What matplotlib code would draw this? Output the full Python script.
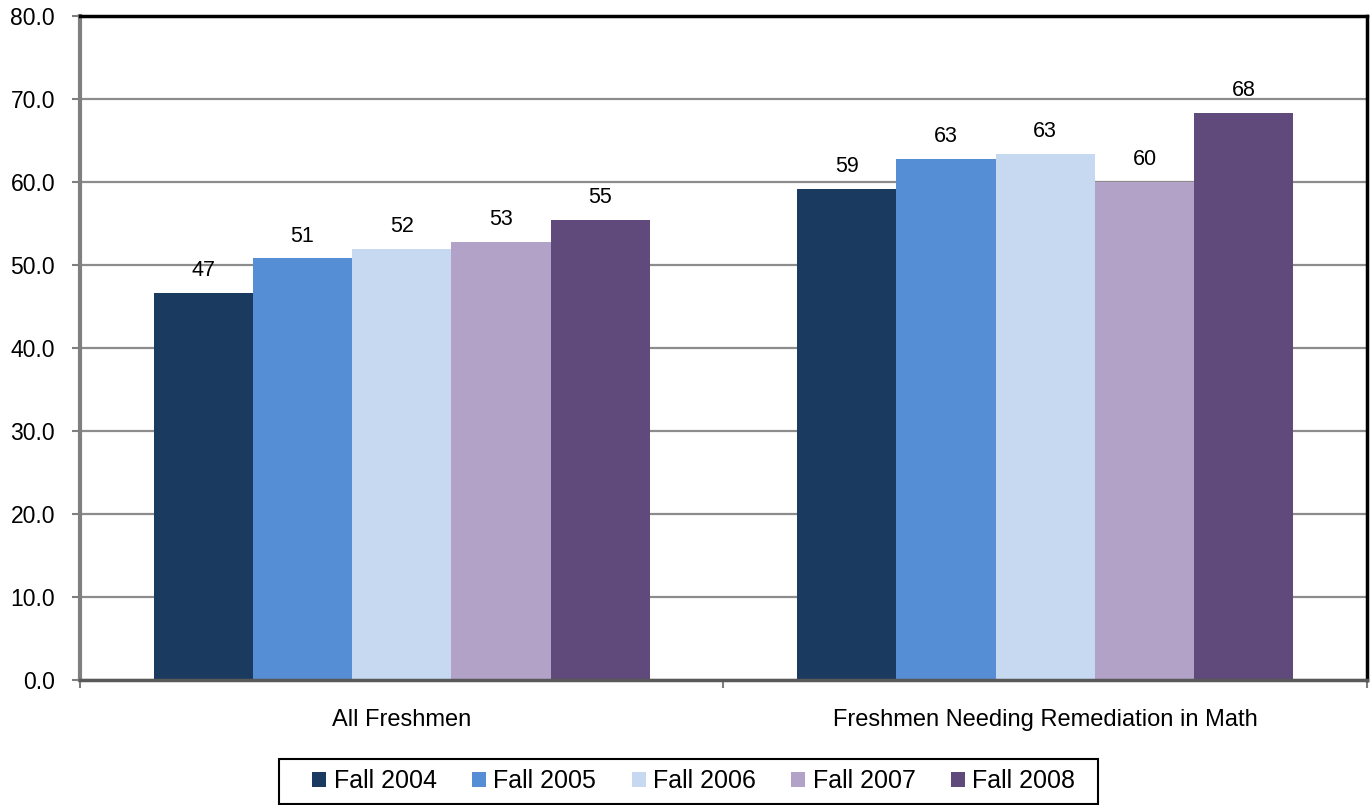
import numpy as np
import matplotlib.pyplot as plt
from matplotlib.patches import Patch, Rectangle

plt.rcParams['font.family'] = ['Liberation Sans', 'DejaVu Sans']

categories = ['All Freshmen', 'Freshmen Needing Remediation in Math']
series = ['Fall 2004', 'Fall 2005', 'Fall 2006', 'Fall 2007', 'Fall 2008']
values = {
    'Fall 2004': [46.6, 59.2],
    'Fall 2005': [50.8, 62.8],
    'Fall 2006': [51.9, 63.4],
    'Fall 2007': [52.8, 60.0],
    'Fall 2008': [55.4, 68.3],
}
colors = ['#1B3A5F', '#558ED5', '#C6D9F1', '#B3A2C7', '#604A7B']
y_ticks = np.arange(0, 81, 10)

fig = plt.figure(figsize=(13.7, 8.05), dpi=100)
ax = fig.add_axes([0.0584, 0.1553, 0.9394, 0.8248])

x = np.arange(len(categories))
width = 0.1543
for i, (name, c) in enumerate(zip(series, colors)):
    bars = ax.bar(x + (i - 2) * width, values[name], width=width, color=c,
                  zorder=3, linewidth=0)
    ax.bar_label(bars, fmt='%.0f', padding=8.5, fontsize=15.5, zorder=4)

ax.set_xlim(-0.5, len(categories) - 0.5)
ax.set_ylim(0, 80)
ax.set_yticks(y_ticks)
ax.set_yticklabels([f'{v:.1f}' for v in y_ticks], fontsize=16.5)
ax.yaxis.grid(True, color='#8C8C8C', linewidth=1.6, zorder=0)

# category boundaries get the ticks, names sit between them
ax.set_xticks(np.arange(-0.5, len(categories), 1.0))
ax.set_xticklabels([])
ax.set_xticks(x, minor=True)
ax.set_xticklabels(categories, minor=True, fontsize=17)
ax.tick_params(axis='x', which='major', direction='out', length=6,
               width=1.5, color='#7F7F7F')
ax.tick_params(axis='x', which='minor', length=0, pad=21)
ax.tick_params(axis='y', direction='out', length=6, width=1.5,
               color='#7F7F7F', pad=12)

ax.spines['left'].set_color('#7F7F7F')
ax.spines['left'].set_linewidth(3)
ax.spines['bottom'].set_color('#595959')
ax.spines['bottom'].set_linewidth(2.5)
ax.spines['top'].set_color('black')
ax.spines['top'].set_linewidth(2.5)
ax.spines['right'].set_color('black')
ax.spines['right'].set_linewidth(2.5)
for s in ax.spines.values():
    s.set_zorder(5)

handles = [Patch(facecolor=c, label=n) for n, c in zip(series, colors)]
leg = fig.legend(handles=handles, loc='center', bbox_to_anchor=(0.5065, 0.0298),
                 ncol=5, fontsize=18, frameon=False,
                 handlelength=0.55, handleheight=0.55,
                 handletextpad=0.3, columnspacing=1.42, borderpad=0.3,
                 borderaxespad=0)

# legend box drawn separately so it can be wider than the entries
fig.patches.append(Rectangle((279 / 1370, 1 - 804 / 805), 819 / 1370, 45 / 805,
                             transform=fig.transFigure, facecolor='none',
                             edgecolor='black', linewidth=1.5))

fig.savefig('out.png', dpi=100)
